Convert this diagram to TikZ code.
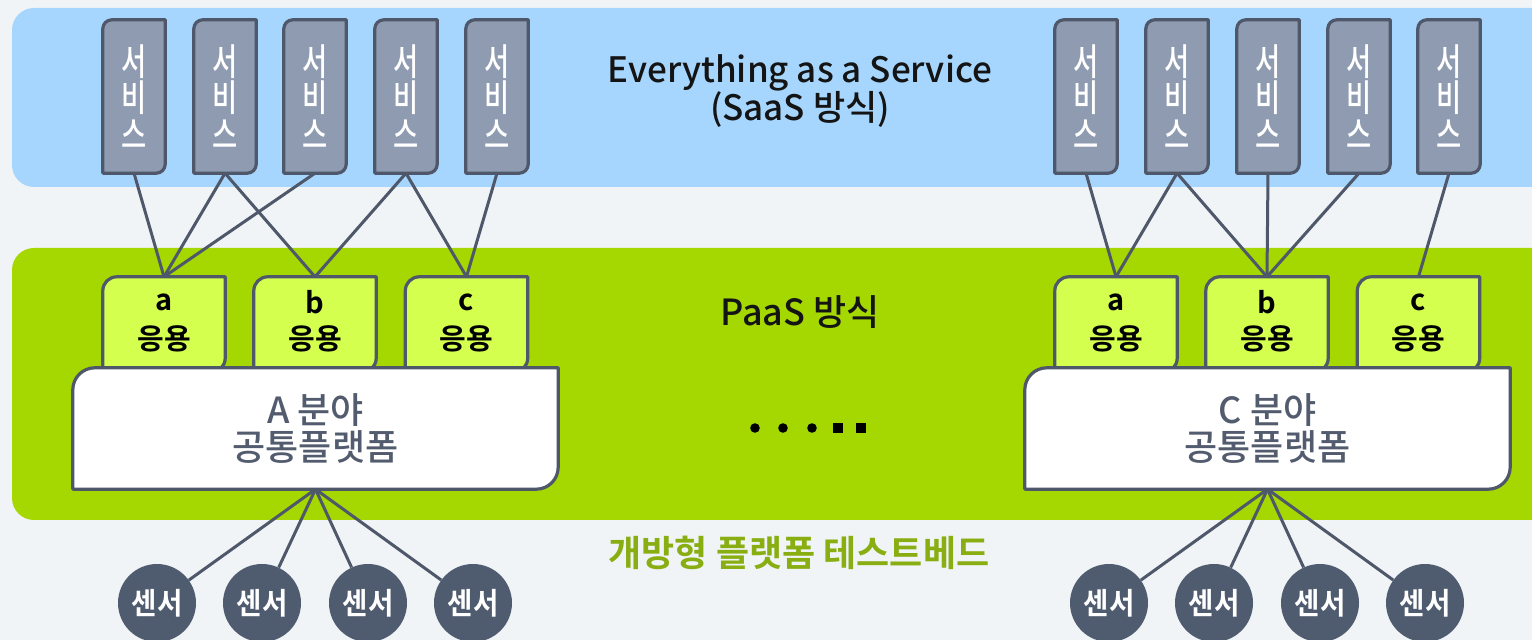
\documentclass[tikz,border=0pt]{standalone}
\usepackage{fontspec}
\setmainfont{Noto Sans CJK KR}
\newfontfamily\krmed{Noto Sans CJK KR}[UprightFont={* Medium}, BoldFont={* Bold}]
\newfontfamily\krnarrow{Noto Sans CJK KR}[UprightFont={* Medium}, FakeStretch=0.74]
\newfontfamily\krbold{Noto Sans CJK KR}[UprightFont={* Bold}]
\newfontfamily\krboldnarrow{Noto Sans CJK KR}[UprightFont={* Bold}, FakeStretch=0.92]

\definecolor{bgc}{HTML}{F1F4F6}
\definecolor{saasblue}{HTML}{A6D6FE}
\definecolor{paasgreen}{HTML}{A4D800}
\definecolor{appfill}{HTML}{D4FF4F}
\definecolor{svcfill}{HTML}{8E9BB0}
\definecolor{edge}{HTML}{4E586A}
\definecolor{platformtxt}{HTML}{525C6E}
\definecolor{testbed}{HTML}{88AE12}
\definecolor{sensorfill}{HTML}{4F5B6E}

\pgfdeclarelayer{bands}
\pgfdeclarelayer{shapes}
\pgfsetlayers{bands,shapes,main}

% box with rounded top-left and bottom-right corners, traced on a node's border
\newcommand\leafpath[3]{%
  \path[#3] (#1.south west) -- ([yshift=-#2]#1.north west)
    arc[start angle=180,end angle=90,radius=#2] -- (#1.north east)
    -- ([yshift=#2]#1.south east)
    arc[start angle=0,end angle=-90,radius=#2] -- cycle;}

\tikzset{
  svcbox/.style={minimum width=62, minimum height=153, inner sep=0,
    text=white, align=center, font=\krnarrow\fontsize{37}{36.5}\selectfont},
  appbox/.style={minimum width=122, minimum height=95, inner sep=0},
  applbl/.style={inner sep=0, text=black, font=\krbold\fontsize{29}{30}\selectfont},
  platbox/.style={minimum width=485, minimum height=121, inner sep=0,
    text=platformtxt, align=center, font=\krmed\fontsize{36}{37}\selectfont},
  sensor/.style={circle, fill=sensorfill, minimum size=78, inner sep=0,
    text=white, font=\krboldnarrow\fontsize{30}{30}\selectfont},
  link/.style={draw=edge, line width=3pt},
  svcshape/.style={fill=svcfill, draw=edge, line width=3.2pt, line join=round},
  appshape/.style={fill=appfill, draw=edge, line width=3.2pt, line join=round},
  platshape/.style={fill=white, draw=edge, line width=3.2pt, line join=round},
  title/.style={inner sep=0, text=black!92, align=center}
}

\begin{document}
\begin{tikzpicture}[x=1pt, y=1pt]
\useasboundingbox (0,0) rectangle (1532,640);
\clip (0,0) rectangle (1532,640);

\begin{pgfonlayer}{bands}
  \fill[bgc] (0,0) rectangle (1532,640);
  \fill[saasblue, rounded corners=22] (12,453) rectangle (1580,632);
  \fill[paasgreen, rounded corners=22] (12,120) rectangle (1580,392);
\end{pgfonlayer}

% services
\foreach \s/\x in {L1/134, L2/225, L3/315, L4/406, L5/497,
                   R1/1086, R2/1177, R3/1268, R4/1359, R5/1449}
  \node[svcbox] (s\s) at (\x,543.5) {서\\비\\스};

% applications
\foreach \s/\x/\t in {L1/164/a, L2/315/b, L3/466.5/c,
                      R1/1116/a, R2/1267/b, R3/1418.5/c}{
  \node[appbox] (a\s) at (\x,315.5) {};
  \node[applbl] (a\s t) at ([yshift=22.5]a\s.center) {\t};
  \node[applbl] (a\s k) at ([yshift=-14]a\s.center) {응용};
}

% common platforms
\node[platbox] (pL) at (315.5,211.5) {A 분야\\공통플랫폼};
\node[platbox] (pR) at (1267.5,211.5) {C 분야\\공통플랫폼};

% sensors
\foreach \s/\x in {L1/157, L2/262, L3/368, L4/473,
                   R1/1109, R2/1214, R3/1320, R4/1425}
  \node[sensor] (n\s) at (\x,37) {센서};

\begin{pgfonlayer}{shapes}
  \foreach \s in {L1,L2,L3,L4,L5,R1,R2,R3,R4,R5}
    \leafpath{s\s}{9pt}{svcshape};
  \foreach \s in {L1,L2,L3,R1,R2,R3}
    \leafpath{a\s}{14pt}{appshape};
  \leafpath{pL}{22pt}{platshape};
  \leafpath{pR}{22pt}{platshape};
\end{pgfonlayer}

% services to applications
\foreach \f/\t in {sL1/aL1, sL2/aL1, sL2/aL2, sL3/aL1, sL4/aL2, sL4/aL3, sL5/aL3,
                   sR1/aR1, sR2/aR1, sR2/aR2, sR3/aR2, sR4/aR2, sR5/aR3}
  \draw[link] (\f.south) -- (\t.north);

% platforms to sensors
\foreach \n in {nL1,nL2,nL3,nL4}
  \draw[link] (pL.south) -- (\n);
\foreach \n in {nR1,nR2,nR3,nR4}
  \draw[link] (pR.south) -- (\n);

% layer titles
\node[title, font=\krmed\fontsize{35}{38}\selectfont] (saas) at (800,549)
  {Everything as a Service\\(SaaS 방식)};
\node[title, font=\krmed\fontsize{36}{38}\selectfont] (paas) at (800,328) {PaaS 방식};
\node[title, text=testbed, font=\krbold\fontsize{36}{38}\selectfont] (bed) at (799,87)
  {개방형 플랫폼 테스트베드};

% ellipsis between the fields
\foreach \x in {755,783,812}
  \fill[black] (\x,212) circle[radius=4.8];
\foreach \x in {838,861}
  \fill[black] (\x-4.8,207.4) rectangle (\x+4.8,216.6);
\end{tikzpicture}
\end{document}
